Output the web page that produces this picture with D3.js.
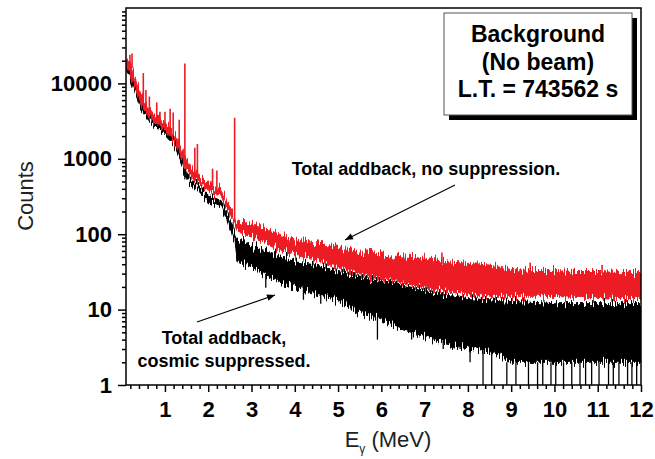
<!DOCTYPE html>
<meta charset="utf-8">
<style>
body { margin: 0; background: #fff; }
svg { font-family: Arial, "Liberation Sans", sans-serif; }
.tick text { font-size: 22px; font-weight: bold; fill: #000; }
.axis path, .axis line { stroke: #000; stroke-width: 1.5px; }
.title { font-size: 22px; fill: #222; }
.note { font-size: 18px; font-weight: bold; }
.box text { font-size: 23px; font-weight: bold; text-anchor: middle; }
</style>
<body>
<script src="https://d3js.org/d3.v7.min.js"></script>
<script>
// energies (MeV) where the band edges were read
var energy = [0.1, 0.2, 0.3, 0.5, 0.7, 1.0, 1.2, 1.3, 1.4, 1.5, 1.7, 2.0, 2.3, 2.45, 2.55, 2.62, 2.66,
              2.75, 3.0, 3.5, 4.0, 4.5, 5.0, 5.5, 6.0, 6.5, 7.0, 7.5, 8.0, 8.5, 9.0, 9.5, 10, 10.5, 11, 11.5, 12];
// total addback, no suppression (red): upper and lower edge of the noise band
var redHi = [22000, 19000, 12000, 6000, 4200, 3000, 2300, 1800, 1300, 950, 650, 450, 400, 260, 200, 165, 155,
             150, 140, 108, 84, 77, 69, 58, 53, 50, 48, 43, 41, 39, 34, 33, 33, 32, 32, 31, 31];
var redLo = [17000, 14000, 9000, 4600, 3300, 2400, 1800, 1350, 1000, 700, 520, 360, 320, 200, 150, 130, 120,
             104, 95, 69, 53, 45, 36, 29, 25, 22.5, 19.5, 17.5, 15.6, 15, 15, 15, 15, 14.5, 14.5, 14, 14];
// total addback, cosmic suppressed (black)
var blackHi = [19000, 14500, 9000, 4500, 3300, 2350, 1800, 1350, 950, 620, 480, 320, 270, 170, 125, 98, 80,
               85, 69, 56, 43, 39, 32, 27, 23.5, 21, 18, 15.6, 14, 13.5, 12.8, 12.5, 12, 12, 12, 12, 12];
var blackLo = [16000, 12000, 8000, 4000, 3000, 2100, 1600, 1150, 800, 520, 420, 270, 230, 140, 100, 80, 45,
               42, 37, 26, 19.5, 16, 13.5, 9, 7.3, 5.4, 4.4, 3.6, 3.1, 2.8, 2, 2, 2, 2, 2, 2, 2];

// gamma lines in the red spectrum: [energy, top, base]
var redPeaks = [[0.19, 24000, 17000], [0.24, 25000, 16000], [0.50, 13700, 5000], [0.56, 8200, 4500],
                [0.64, 6700, 4000], [0.81, 5600, 3000], [0.885, 4200, 2800], [1.0, 4200, 2500],
                [1.12, 4600, 2200], [1.19, 4100, 2000], [1.33, 3300, 1500], [1.46, 18300, 1000],
                [1.69, 1400, 580], [1.75, 1570, 560], [2.10, 740, 420], [2.20, 700, 400], [2.61, 3500, 150],
                [7.4, 57, 40], [9.44, 42, 30], [11.1, 39, 30]];
// deep low-count channels in the black spectrum: [energy, from, to]
var blackDips = [[3.33, 30, 19.5], [4.2, 20, 13.5], [4.6, 17, 12], [5.3, 14, 10], [5.91, 8, 4], [6.70, 6, 4],
                 [7.2, 5, 4], [7.43, 4, 3], [7.82, 4, 3], [8.05, 3.2, 2], [8.35, 3, 1], [8.55, 3, 1],
                 [8.90, 2, 1], [9.11, 2, 1], [9.40, 2, 1], [9.61, 2, 1], [9.73, 2, 1], [9.92, 2, 1],
                 [10.03, 2, 1], [10.21, 2, 1], [10.40, 2, 1], [10.59, 2, 1], [10.72, 2, 1], [10.86, 2, 1],
                 [11.03, 2, 1], [11.25, 2, 1], [11.36, 2, 1], [11.49, 2, 1], [11.69, 2, 1], [11.79, 2, 1],
                 [11.90, 2, 1]];

var xMajor = [1, 2, 3, 4, 5, 6, 7, 8, 9, 10, 11, 12];
var yMajor = [1, 10, 100, 1000, 10000];
var boxLines = ["Background", "(No beam)", "L.T. = 743562 s"];

var width = 655, height = 459;
var plot = {left: 126, right: 641, top: 8, bottom: 385};

var x = d3.scaleLinear().domain([0.1, 12]).range([plot.left, plot.right]);
var y = d3.scaleLog().domain([1, 100000]).range([plot.bottom, plot.top]);

var svg = d3.select("body").append("svg")
    .attr("width", width)
    .attr("height", height);

var defs = svg.append("defs");
defs.append("clipPath").attr("id", "clip")
  .append("rect")
    .attr("x", plot.left).attr("y", plot.top)
    .attr("width", plot.right - plot.left).attr("height", plot.bottom - plot.top);

// roughen the band edges so they read like channel noise
var f = defs.append("filter").attr("id", "rough")
    .attr("x", "-2%").attr("y", "-10%").attr("width", "104%").attr("height", "120%")
    .attr("color-interpolation-filters", "sRGB");
f.append("feTurbulence").attr("type", "fractalNoise")
    .attr("baseFrequency", "0.9 0.03").attr("numOctaves", 1).attr("seed", 4).attr("result", "t");
f.append("feColorMatrix").attr("in", "t").attr("type", "matrix")
    .attr("values", "0 0 0 0 0.5  1 0 0 0 0  0 0 0 0 0  0 0 0 0 1").attr("result", "m");
f.append("feDisplacementMap").attr("in", "SourceGraphic").attr("in2", "m")
    .attr("scale", 22).attr("xChannelSelector", "R").attr("yChannelSelector", "G");

var arrow = defs.append("marker")
    .attr("id", "arrow")
    .attr("viewBox", "0 0 10 10")
    .attr("refX", 10).attr("refY", 5)
    .attr("markerWidth", 10).attr("markerHeight", 8)
    .attr("markerUnits", "userSpaceOnUse")
    .attr("orient", "auto");
arrow.append("path").attr("d", "M0,1L10,5L0,9Z").attr("fill", "#000");

var data = energy.map(function(e, i) {
  return {e: e, rh: redHi[i], rl: redLo[i], bh: blackHi[i], bl: blackLo[i]};
});

var g = svg.append("g").attr("clip-path", "url(#clip)");

// spectra drawn as noise bands
function band(lo, hi) {
  return d3.area()
    .x(function(d) { return x(d.e); })
    .y0(function(d) { return y(d[lo]); })
    .y1(function(d) { return y(d[hi]); });
}

g.append("path").datum(data)
    .attr("d", band("bl", "bh"))
    .attr("fill", "#000").attr("stroke", "#000").attr("stroke-width", 1)
    .attr("filter", "url(#rough)");

g.selectAll(".dip").data(blackDips).enter().append("line")
    .attr("class", "dip")
    .attr("x1", function(d) { return x(d[0]); })
    .attr("x2", function(d) { return x(d[0]); })
    .attr("y1", function(d) { return y(d[1]); })
    .attr("y2", function(d) { return y(d[2]); })
    .attr("stroke", "#000").attr("stroke-width", 1.3);

g.append("path").datum(data)
    .attr("d", band("rl", "rh"))
    .attr("fill", "#ed1c24").attr("stroke", "#ed1c24").attr("stroke-width", 1)
    .attr("filter", "url(#rough)");

g.selectAll(".peak").data(redPeaks).enter().append("line")
    .attr("class", "peak")
    .attr("x1", function(d) { return x(d[0]); })
    .attr("x2", function(d) { return x(d[0]); })
    .attr("y1", function(d) { return y(d[2]); })
    .attr("y2", function(d) { return y(d[1]); })
    .attr("stroke", "#ed1c24").attr("stroke-width", 1.6);

// frame
svg.append("rect")
    .attr("x", plot.left).attr("y", plot.top)
    .attr("width", plot.right - plot.left).attr("height", plot.bottom - plot.top)
    .attr("fill", "none").attr("stroke", "#000").attr("stroke-width", 1.5);

// x axis, minor ticks every 0.2
var xMinor = d3.range(1, 60).map(function(i) { return i / 5; })
    .filter(function(v) { return Math.abs(v - Math.round(v)) > 1e-6; });

svg.append("g").attr("class", "axis")
    .attr("transform", "translate(0," + plot.bottom + ")")
    .call(d3.axisBottom(x).tickValues(xMinor).tickSize(4).tickFormat(""))
    .select(".domain").remove();
svg.append("g").attr("class", "axis")
    .attr("transform", "translate(0," + plot.bottom + ")")
    .call(d3.axisBottom(x).tickValues(xMajor).tickSize(7).tickPadding(9).tickFormat(d3.format("d")))
    .select(".domain").remove();

// y axis, log minor ticks
var yMinor = [];
[1, 10, 100, 1000, 10000].forEach(function(p) {
  for (var k = 2; k <= 9; k++) yMinor.push(k * p);
});

svg.append("g").attr("class", "axis")
    .attr("transform", "translate(" + plot.left + ",0)")
    .call(d3.axisLeft(y).tickValues(yMinor).tickSize(4).tickFormat(""))
    .select(".domain").remove();
svg.append("g").attr("class", "axis")
    .attr("transform", "translate(" + plot.left + ",0)")
    .call(d3.axisLeft(y).tickValues(yMajor).tickSize(8).tickPadding(6).tickFormat(d3.format("d")))
    .select(".domain").remove();

// axis titles
svg.append("text").attr("class", "title")
    .attr("transform", "translate(33,196) rotate(-90)")
    .attr("text-anchor", "middle")
    .text("Counts");

var xt = svg.append("text").attr("class", "title")
    .attr("x", 388).attr("y", 447)
    .attr("text-anchor", "middle");
xt.append("tspan").text("E");
xt.append("tspan").attr("dy", 6).style("font-size", "12px").text("\u03b3");
xt.append("tspan").attr("dy", -6).text(" (MeV)");

// info box with shadow
var box = svg.append("g").attr("class", "box");
box.append("rect").attr("x", 449).attr("y", 18).attr("width", 188).attr("height", 102).attr("fill", "#000");
box.append("rect").attr("x", 444).attr("y", 13).attr("width", 188).attr("height", 102)
    .attr("fill", "#fff").attr("stroke", "#555").attr("stroke-width", 1);
box.selectAll("text").data(boxLines).enter().append("text")
    .attr("x", 538)
    .attr("y", function(d, i) { return 42 + i * 27.5; })
    .text(function(d) { return d; });

// annotations
svg.append("text").attr("class", "note")
    .attr("x", 426).attr("y", 175).attr("text-anchor", "middle")
    .text("Total addback, no suppression.");
svg.append("line")
    .attr("x1", 455).attr("y1", 185).attr("x2", 345).attr("y2", 240)
    .attr("stroke", "#000").attr("stroke-width", 1.2)
    .attr("marker-end", "url(#arrow)");

var low = svg.append("text").attr("class", "note").attr("text-anchor", "middle");
low.append("tspan").attr("x", 224).attr("y", 344).text("Total addback,");
low.append("tspan").attr("x", 224).attr("y", 367).text("cosmic suppressed.");
svg.append("line")
    .attr("x1", 197).attr("y1", 322).attr("x2", 275).attr("y2", 295)
    .attr("stroke", "#000").attr("stroke-width", 1.2)
    .attr("marker-end", "url(#arrow)");
</script>
</body>
